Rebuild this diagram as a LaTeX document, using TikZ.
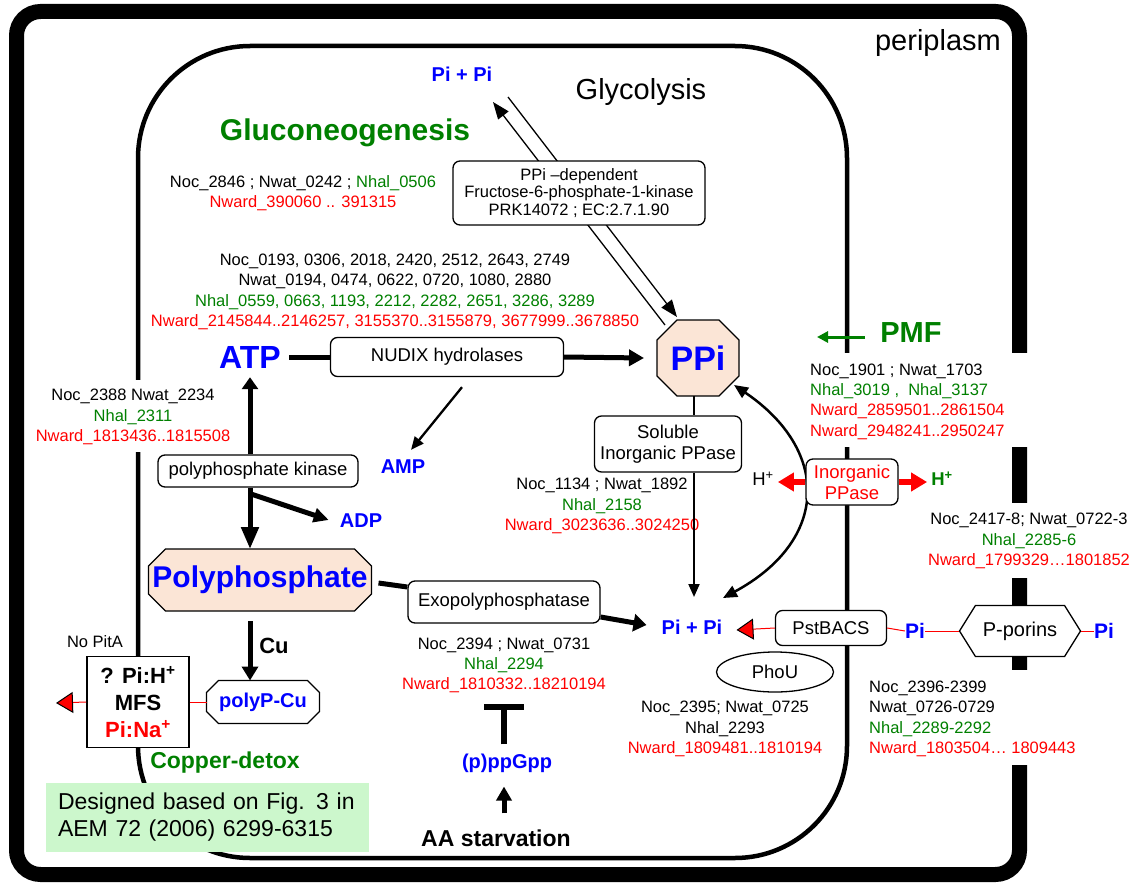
\documentclass[tikz,border=0pt]{standalone}
\usepackage{fontspec}
\setmainfont{Liberation Sans}
\usepackage{xcolor}
\usepackage{tikz}
\usetikzlibrary{positioning,arrows.meta,shapes.geometric,shapes.symbols,calc,backgrounds}

\definecolor{metblue}{RGB}{0,0,255}
\definecolor{nhalgreen}{RGB}{0,128,0}
\definecolor{nwardred}{RGB}{255,0,0}
\definecolor{poolfill}{RGB}{251,229,214}
\definecolor{notefill}{RGB}{204,247,204}

\newcommand{\nhal}[1]{\textcolor{nhalgreen}{#1}}
\newcommand{\nward}[1]{\textcolor{nwardred}{#1}}
% octagon behind a named pool node: name, chamfer, fill
\newcommand{\poolshape}[3]{%
\begin{scope}[on background layer]
\draw[line width=1.3pt,fill=#3]
($(#1.north west)+(#2,0)$) -- ($(#1.north east)+(-#2,0)$) -- ($(#1.north east)+(0,#2)$) --
($(#1.south east)+(0,-#2)$) -- ($(#1.south east)+(-#2,0)$) -- ($(#1.south west)+(#2,0)$) --
($(#1.south west)+(0,-#2)$) -- ($(#1.north west)+(0,#2)$) -- cycle;
\end{scope}}

\begin{document}
\begin{tikzpicture}[
x=1pt,y=-1pt,
genes/.style={align=center,inner sep=0pt,font=\fontsize{16.5}{20.3}\selectfont},
enzyme/.style={
rectangle,draw,rounded corners=7pt,fill=white,
align=center,line width=1.3pt,inner sep=0pt,
font=\fontsize{18.5}{21}\selectfont
},
metab/.style={inner sep=0pt,text=metblue,font=\bfseries\fontsize{20}{24}\selectfont},
pool/.style={rectangle,inner sep=0pt,outer sep=0pt,text=metblue},
heavy/.style={line width=5pt,-{Triangle[length=15pt,width=16pt]}},
thinarrow/.style={line width=2pt,-{Triangle[length=13pt,width=11pt]}},
redlink/.style={draw=nwardred,line width=1pt},
redtip/.style={redlink,-{Triangle[length=17pt,width=21pt,fill=nwardred,color=black,line width=1pt]}},
protonarrow/.style={draw=nwardred,line width=6pt,-{Triangle[length=16pt,width=18pt]}}
]
\useasboundingbox (0,0) rectangle (1135,883);

% MEMBRANES
\draw[line width=15pt,rounded corners=24pt] (16.5,11.5) rectangle (1019.5,874.5);
\draw[line width=4.5pt,rounded corners=112pt] (138,46) rectangle (847,858);

\fill[white] (25,380) rectangle (235,452);
\fill[white] (805,353) rectangle (1030,447);
\fill[white] (925,503) rectangle (1030,578);
\fill[white] (865,670) rectangle (1030,765);

% TITLES
\node[anchor=east,inner sep=0pt,font=\fontsize{29}{34}\selectfont] (peri) at (1001,43) {periplasm};
\node[inner sep=0pt,font=\fontsize{29}{34}\selectfont] (glyco) at (641,92) {Glycolysis};
\node[inner sep=0pt,text=nhalgreen,font=\bfseries\fontsize{30}{36}\selectfont] (gluco) at (345,133) {Gluconeogenesis};

% GLYCOLYSIS SHUNT
\coordinate (fa1) at (665,325);
\coordinate (fa2) at (493,102);
\coordinate (fb1) at (508,97);
\coordinate (fb2) at (677,317);
\draw[line width=1.3pt,-{Triangle[length=17pt,width=13pt]}] (fa1) -- (fa2);
\draw[line width=1.3pt,-{Triangle[length=17pt,width=13pt]}] (fb1) -- (fb2);

\node[metab] (pitop) at (462,74) {Pi + Pi};
\node[enzyme,minimum width=252pt,minimum height=64pt,font=\fontsize{16.5}{17.5}\selectfont] (f6p) at (579,193)
{PPi –dependent\\Fructose-6-phosphate-1-kinase\\PRK14072 ; EC:2.7.1.90};

\node[genes] (g2846) at (303,193)
{Noc\_2846 ; Nwat\_0242 ; \nhal{Nhal\_0506}\\\nward{Nward\_390060 .. 391315}};

\node[genes] (g0193) at (395,292)
{Noc\_0193, 0306, 2018, 2420, 2512, 2643, 2749\\
Nwat\_0194, 0474, 0622, 0720, 1080, 2880\\
\nhal{Nhal\_0559, 0663, 1193, 2212, 2282, 2651, 3286, 3289}\\
\nward{Nward\_2145844..2146257, 3155370..3155879, 3677999..3678850}};

% ATP / PPi
\node[metab,font=\bfseries\fontsize{32}{38}\selectfont] (atp) at (250,357) {ATP};
\node[enzyme,minimum width=233pt,minimum height=39pt] (nudix) at (447,357) {NUDIX hydrolases};
\node[pool,minimum width=82pt,minimum height=76pt,font=\bfseries\fontsize{34}{40}\selectfont] (ppi) at (698,358) {PPi};
\poolshape{ppi}{20}{poolfill}
\node[metab] (amp) at (403,467) {AMP};

\draw[line width=5pt] (atp.east) ++(8,0) -- (nudix.west);
\draw[heavy] (nudix.east) -- ($(ppi.west)+(-13,0)$);
\draw[thinarrow,line width=2.3pt] ($(nudix.south)+(15,10)$) -- ($(amp.north)+(8,-10)$);

% POLYPHOSPHATE
\node[genes] (g2388) at (133,417)
{Noc\_2388 Nwat\_2234\\\nhal{Nhal\_2311}\\\nward{Nward\_1813436..1815508}};
\node[enzyme,minimum width=200pt,minimum height=32pt] (pk) at (258,471) {polyphosphate kinase};
\node[metab] (adp) at (361,521) {ADP};
\node[pool,minimum width=223pt,minimum height=62pt,font=\bfseries\fontsize{30}{36}\selectfont] (polyp) at (260,580) {Polyphosphate};
\poolshape{polyp}{17}{poolfill}

\draw[heavy,-{Triangle[length=12pt,width=16pt]}] (pk.north -| atp) -- ($(atp.south)+(0,9)$);
\draw[heavy,-{Triangle[length=22pt,width=17pt]}] (pk.south -| atp) -- (polyp.north -| atp);
\draw[heavy,-{Triangle[length=15pt,width=14pt]}] ($(pk.south -| atp)+(0,6)$) -- ($(adp.west)+(-11,-1)$);

\node[enzyme,minimum width=192pt,minimum height=42pt] (exo) at (504,602) {Exopolyphosphatase};
\node[genes,below=14pt of exo] (g2394)
{Noc\_2394 ; Nwat\_0731\\\nhal{Nhal\_2294}\\\nward{Nward\_1810332..18210194}};
\node[metab] (pimid) at (692,627) {Pi + Pi};

\draw[line width=5pt] (polyp.east) ++(7,3) -- ($(exo.west)+(0,-15)$);
\draw[heavy,-{Triangle[length=13pt,width=17pt]}] ($(exo.east)+(0,15)$) -- ($(pimid.west)+(-15,-2)$);

% STRINGENT RESPONSE
\node[metab] (ppgpp) at (507,763) {(p)ppGpp};
\node[inner sep=0pt,font=\bfseries\fontsize{23}{27}\selectfont] (aa) at (496,838) {AA starvation};
\draw[line width=5.5pt,-{Bar[width=40pt,line width=6pt]},shorten <=9pt,shorten >=11pt] (ppgpp.north -| 504,0) -- (g2394.south -| 504,0);
\draw[line width=5pt,-{Triangle[length=14pt,width=15pt]},shorten <=16pt,shorten >=14pt] (aa.north -| 504,0) -- (ppgpp.south -| 504,0);

% SOLUBLE PPASE
\node[enzyme,minimum width=147pt,minimum height=56pt] (sppase) at (668,444) {Soluble\\Inorganic PPase};
\node[genes] (g1134) at (602,506)
{Noc\_1134 ; Nwat\_1892\\\nhal{Nhal\_2158}\\\nward{Nward\_3023636..3024250}};
\draw[line width=2pt] (ppi.south -| 694,0) -- (sppase.north -| 694,0);
\draw[thinarrow] (sppase.south -| 694,0) -- (694,597);

\coordinate (cva) at (734,385);
\coordinate (cvb) at (723,598);
\draw[line width=2.5pt,{Triangle[length=14pt,width=12pt]}-{Triangle[length=14pt,width=12pt]}]
(cva) .. controls (830,450) and (830,540) .. (cvb);

% MEMBRANE PPASE
\node[inner sep=0pt,text=nhalgreen,font=\bfseries\fontsize{29}{34}\selectfont] (pmf) at (911,333) {PMF};
\coordinate (pmfend) at (817,337);
\draw[draw=nhalgreen,line width=3pt,-{Triangle[length=11pt,width=11pt]}] ($(pmf.west)+(-15,4)$) -- (pmfend);

\node[genes,align=left,anchor=west] (g1901) at (810,401.5)
{Noc\_1901 ; Nwat\_1703\\\nhal{Nhal\_3019 ,\ \ Nhal\_3137}\\\nward{Nward\_2859501..2861504}\\\nward{Nward\_2948241..2950247}};
\node[enzyme,minimum width=92pt,minimum height=46pt,text=nwardred] (ippase) at (852,482) {Inorganic\\PPase};
\node[inner sep=0pt,font=\fontsize{18.5}{21}\selectfont] (hleft) at (763,479) {H\textsuperscript{+}};
\node[inner sep=0pt,text=nhalgreen,font=\bfseries\fontsize{18.5}{21}\selectfont] (hright) at (942,479) {H\textsuperscript{+}};
\draw[protonarrow] (ippase.west) -- ($(hleft.east)+(4,3)$);
\draw[protonarrow] (ippase.east) -- ($(hright.west)+(-4,3)$);

\node[genes] (g2417) at (1029,541)
{Noc\_2417-8; Nwat\_0722-3\\\nhal{Nhal\_2285-6}\\\nward{Nward\_1799329…1801852}};

% PHOSPHATE UPTAKE
\node[enzyme,minimum width=111pt,minimum height=35pt] (pst) at (831,628) {PstBACS};
\node[metab,font=\bfseries\fontsize{21}{25}\selectfont] (pia) at (915,631) {Pi};
\node[signal,signal to=east and west,signal pointer angle=116,draw,fill=white,line width=1.3pt,
minimum width=121pt,minimum height=51pt,inner sep=0pt,font=\fontsize{20}{24}\selectfont] (porin) at (1020,631) {P-porins};
\node[metab,font=\bfseries\fontsize{21}{25}\selectfont] (pib) at (1104,631) {Pi};
\draw[redtip] (pst.west) -- ($(pimid.east)+(14,3)$);
\draw[redlink] (pst.east) -- (pia.west);
\draw[redlink] (pia.east) -- (porin.west);
\draw[redlink] (porin.east) -- (pib.west);

\node[ellipse,draw,line width=1.3pt,minimum width=117pt,minimum height=40pt,inner sep=0pt,
font=\fontsize{18.5}{21}\selectfont] (phou) at (775,672) {PhoU};
\node[genes] (g2395) at (725,729)
{Noc\_2395; Nwat\_0725\\Nhal\_2293\\\nward{Nward\_1809481..1810194}};
\node[genes,align=left,anchor=west] (g2396) at (869,719)
{Noc\_2396-2399\\Nwat\_0726-0729\\\nhal{Nhal\_2289-2292}\\\nward{Nward\_1803504… 1809443}};

% COPPER
\node[rectangle,draw,fill=white,line width=1.6pt,minimum width=102pt,minimum height=91pt,inner sep=0pt,
align=center,font=\bfseries\fontsize{22}{27}\selectfont] (mfs) at (138,702)
{? Pi:H\textsuperscript{+}\\MFS\\\textcolor{nwardred}{Pi:Na\textsuperscript{+}}};
\node[inner sep=0pt,font=\fontsize{16.5}{20}\selectfont] (nopita) at (95,642) {No PitA};
\coordinate (mfsout) at (56,703);
\draw[redtip] (mfs.west) -- (mfsout);

\node[pool,minimum width=113pt,minimum height=43pt,font=\bfseries\fontsize{20}{24}\selectfont] (polypcu) at (263,702) {polyP-Cu};
\poolshape{polypcu}{12}{white}
\node[inner sep=0pt,font=\bfseries\fontsize{22}{26}\selectfont] (cu) at (274,646) {Cu};
\draw[redlink] (mfs.east) -- (polypcu.west);
\draw[heavy,-{Triangle[length=14pt,width=16pt]},shorten <=10pt] (polyp.south -| atp) -- (polypcu.north -| atp);

\node[inner sep=0pt,text=nhalgreen,font=\bfseries\fontsize{23}{27}\selectfont] (copper) at (225,763) {Copper-detox};

% NOTE
\node[fill=notefill,minimum width=323pt,minimum height=69pt,text width=299pt,inner xsep=12pt,
align=left,font=\fontsize{23}{27}\selectfont] (note) at (207.5,817.5)
{Designed based on Fig. 3 in\\AEM 72 (2006) 6299-6315};

\end{tikzpicture}
\end{document}
